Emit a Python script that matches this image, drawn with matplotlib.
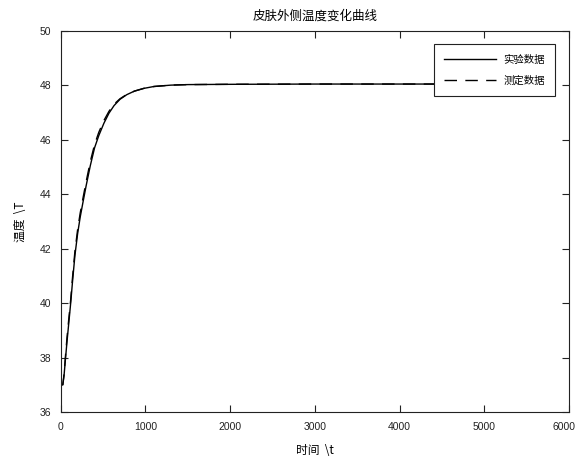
import matplotlib
matplotlib.use("Agg")
import matplotlib.pyplot as plt
import matplotlib.transforms as mtransforms

# Read values (time, temperature)
t_exp = [0, 25, 40, 55, 75, 95, 118, 140, 168, 200, 230, 260, 300, 350, 400, 450,
         510, 570, 630, 700, 780, 870, 980, 1100, 1300, 1500, 2000, 3000, 4000, 5000]
y_exp = [37.0, 37.0, 37.35, 37.9, 38.6, 39.25, 40.0, 40.8, 41.75, 42.55, 43.15, 43.65,
         44.3, 45.05, 45.7, 46.15, 46.6, 46.97, 47.25, 47.48, 47.65, 47.78, 47.88, 47.95,
         48.0, 48.02, 48.03, 48.04, 48.04, 48.04]
t_fit = t_exp
y_fit = [37.0, 37.0, 37.4, 38.0, 38.75, 39.4, 40.12, 40.95, 41.9, 42.7, 43.3, 43.8,
         44.45, 45.2, 45.82, 46.27, 46.7, 47.04, 47.3, 47.5, 47.66, 47.78, 47.88, 47.95,
         48.0, 48.02, 48.03, 48.04, 48.04, 48.04]

title = "皮肤外侧温度变化曲线"
xlabel = r"时间  \t"
ylabel = r"温度  \T"
labels = ["实验数据", "测定数据"]
xticks = [0, 1000, 2000, 3000, 4000, 5000, 6000]
yticks = [36, 38, 40, 42, 44, 46, 48, 50]

cjk = ['Noto Sans CJK SC', 'DejaVu Sans']

fig = plt.figure(figsize=(5.78, 4.57), dpi=100)
ax = fig.add_axes([0.105, 0.0985, 0.8794, 0.8344])

ax.plot(t_exp, y_exp, color='black', lw=1.0, label=labels[0])
ax.plot(t_fit, y_fit, color='black', lw=1.0, ls=(0, (9, 6)), label=labels[1])

ax.set_xlim(0, 6000)
ax.set_ylim(36, 50)
ax.set_xticks(xticks)
ax.set_yticks(yticks)
ax.tick_params(direction='in', top=True, right=True, length=5, width=0.8,
               labelsize=7.5, colors='#222222', pad=7)
for lab in ax.get_xticklabels() + ax.get_yticklabels():
    lab.set_family('Liberation Sans')
last = ax.get_xticklabels()[-1]
last.set_transform(last.get_transform() +
                   mtransforms.ScaledTranslation(-0.045, 0, fig.dpi_scale_trans))
for s in ax.spines.values():
    s.set_linewidth(0.8)
    s.set_color('#222222')

ax.set_title(title, family=cjk, fontsize=9, pad=8)
ax.set_xlabel(xlabel, family=cjk, fontsize=8.5, labelpad=9)
ax.set_ylabel(ylabel, family=cjk, fontsize=8.5, labelpad=9)

leg = ax.legend(loc='upper right', prop={'family': cjk, 'size': 7.5},
                fancybox=False, framealpha=1, edgecolor='#222222',
                handlelength=5.0, handletextpad=0.7, borderaxespad=1.3,
                borderpad=1.0, labelspacing=1.0)
leg.get_frame().set_linewidth(0.8)

fig.savefig("out.png", dpi=100)
